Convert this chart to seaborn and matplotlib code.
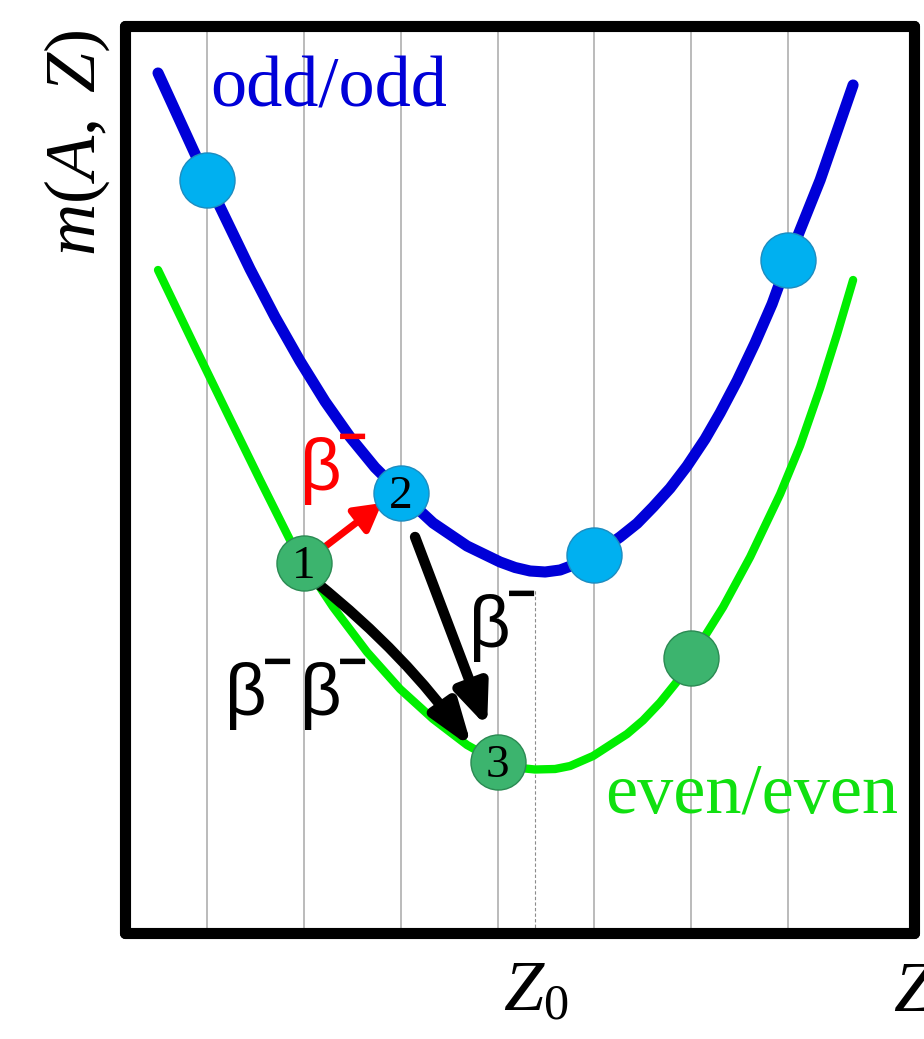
import numpy as np
import pandas as pd
import matplotlib
matplotlib.use("Agg")
import matplotlib.pyplot as plt
import seaborn as sns

# ---------------- data ----------------
# odd/odd mass curve (Z in units of grid spacing, m arbitrary units)
odd_Z = [0.494, 1.000, 1.444, 1.702, 1.960, 2.219, 2.477, 2.735, 3.000, 3.334,
         3.685, 4.026, 4.181, 4.336, 4.491, 4.646, 4.811, 5.000, 5.265, 5.441,
         5.606, 5.781, 5.957, 6.143, 6.298, 6.474, 6.659, 6.835, 7.000, 7.331,
         7.671]
odd_m = [86.0, 75.3, 66.4, 61.6, 57.2, 53.15, 49.6, 46.55, 44.0, 41.0,
         38.7, 37.1, 36.55, 36.2, 36.1, 36.3, 36.9, 37.8, 39.6, 40.96,
         42.6, 44.47, 46.7, 49.4, 52.0, 55.23, 59.0, 62.91, 67.3, 75.3,
         84.8]

# even/even mass curve
even_Z = [0.494, 0.876, 1.238, 1.547, 1.857, 2.000, 2.301, 2.652, 2.993, 3.334,
          3.685, 4.000, 4.181, 4.387, 4.594, 4.749, 4.986, 5.337, 5.502, 5.678,
          5.844, 6.000, 6.329, 6.608, 6.918, 7.124, 7.331, 7.506, 7.671]
even_m = [66.3, 58.6, 51.4, 45.3, 39.3, 37.0, 32.6, 28.1, 24.4, 21.4,
          18.8, 17.1, 16.55, 16.35, 16.4, 16.7, 17.7, 19.9, 21.26, 23.05,
          25.04, 27.5, 32.6, 37.6, 43.9, 48.73, 54.5, 59.89, 65.3]

# nuclides (markers)
odd_pts_Z = [1, 3, 5, 7]
odd_pts_m = [75.3, 44.0, 37.8, 67.3]
even_pts_Z = [2, 4, 6]
even_pts_m = [37.0, 17.1, 27.5]

# numbered nuclides
num_labels = ["1", "2", "3"]
num_Z = [2, 3, 4]
num_m = [37.0, 44.0, 17.1]

grid_Z = [1, 2, 3, 4, 5, 6, 7]
Z0 = 4.39
Z0_line_top = 34.3

tick_pos = [Z0, 8.30]
tick_labels = [r"$Z_0$", r"$Z$"]

# decay arrows: (start Z, start m) -> (end Z, end m)
red_arrow = ((2.146, 38.1), (2.807, 43.0))
black_arrow_23 = ((3.148, 39.6), (3.892, 20.6))
black_arrow_13 = ((2.136, 35.0), (3.737, 18.5))

# ---------------- style ----------------
sns.set_theme(style="white")
plt.rcParams["font.family"] = ["Liberation Serif", "DejaVu Sans"]
plt.rcParams["mathtext.fontset"] = "custom"
plt.rcParams["mathtext.rm"] = "Liberation Serif"
plt.rcParams["mathtext.it"] = "Liberation Serif:italic"

BLUE = "#0000d8"
GREEN = "#00ee00"
MK_BLUE = "#00b0f0"
MK_GREEN = "#3cb46e"

fig = plt.figure(figsize=(9.24, 10.39), dpi=100)
ax = fig.add_axes([125 / 924, 1 - 933 / 1039, (914 - 125) / 924, (933 - 26) / 1039])
ax.set_facecolor("white")

xlim = (0.153, 8.30)
ylim = (0.0, 90.7)

# grid lines
ax.vlines(grid_Z, ylim[0], ylim[1], colors="#a8a8a8", linewidth=1.1, zorder=1)
ax.vlines([Z0], ylim[0], Z0_line_top, colors="#8c8c8c", linewidth=0.8,
          linestyles=(0, (3, 2)), zorder=1)

# curves
sns.lineplot(x=odd_Z, y=odd_m, color=BLUE, linewidth=8, estimator=None,
             sort=False, ax=ax, zorder=2, solid_joinstyle="round")
sns.lineplot(x=even_Z, y=even_m, color=GREEN, linewidth=6, estimator=None,
             sort=False, ax=ax, zorder=2, solid_joinstyle="round")

# arrows
def arrow(p0, p1, color, lw, hl, hw, rad=0.0):
    ax.annotate("", xy=p1, xytext=p0, xycoords="data",
                arrowprops=dict(arrowstyle=f"-|>,head_length={hl},head_width={hw}",
                                mutation_scale=20, lw=lw, color=color,
                                shrinkA=0, shrinkB=0,
                                connectionstyle=f"arc3,rad={rad}"),
                zorder=3)

arrow(red_arrow[0], red_arrow[1], "#ff0000", 5, 0.8, 0.45)
arrow(black_arrow_23[0], black_arrow_23[1], "black", 7.5, 1.2, 0.5)
arrow(black_arrow_13[0], black_arrow_13[1], "black", 7.5, 1.3, 0.45, rad=-0.07)

# markers
sns.scatterplot(x=odd_pts_Z, y=odd_pts_m, s=1570, color=MK_BLUE,
                edgecolor="#1c8cc0", linewidth=1, ax=ax, zorder=4)
sns.scatterplot(x=even_pts_Z, y=even_pts_m, s=1570, color=MK_GREEN,
                edgecolor="#2a8a52", linewidth=1, ax=ax, zorder=4)

for lab, z, m in zip(num_labels, num_Z, num_m):
    ax.annotate(lab, xy=(z, m), xytext=(0, -3), textcoords="offset points",
                ha="center", va="center", fontsize=34, color="black",
                family=["Liberation Serif"], zorder=5)

# beta-minus labels
SANS = ["Liberation Sans", "DejaVu Sans"]

def beta_minus(z, m, color):
    ax.text(z, m, "β", fontsize=52, family=SANS, color=color,
            ha="left", va="baseline", zorder=6)
    ax.annotate("\u2212", xy=(z, m), xytext=(27, 27), textcoords="offset points",
                fontsize=36, fontweight="bold", family=SANS, color=color,
                ha="left", va="baseline", zorder=6)

beta_minus(1.96, 44.3, "#ff0000")
beta_minus(1.186, 21.8, "black")
beta_minus(1.96, 21.8, "black")
beta_minus(3.706, 28.6, "black")

# curve labels
ax.text(1.03, 82.6, "odd/odd", fontsize=52, color=BLUE, ha="left",
        va="baseline", zorder=6)
ax.text(5.11, 12.1, "even/even", fontsize=52, color="#10e010", ha="left",
        va="baseline", zorder=6)

# axes
ax.set_xlim(*xlim)
ax.set_ylim(*ylim)
ax.set_xticks(tick_pos)
ax.set_xticklabels(tick_labels)
ax.set_yticks([])
ax.tick_params(axis="x", length=0, pad=20, labelsize=52, colors="black")
ax.set_xlabel("")
ax.set_ylabel("")
for sp in ax.spines.values():
    sp.set_visible(True)
    sp.set_linewidth(8)
    sp.set_color("black")
    sp.set_capstyle("round")
    sp.set_joinstyle("round")
    sp.set_zorder(10)

fig.text(77 / 924, 1 - 143 / 1039, r"$m(A,\;Z)$", rotation=90, ha="center",
         va="center", fontsize=52, color="black")

fig.savefig("out.png", dpi=100, facecolor="white")
